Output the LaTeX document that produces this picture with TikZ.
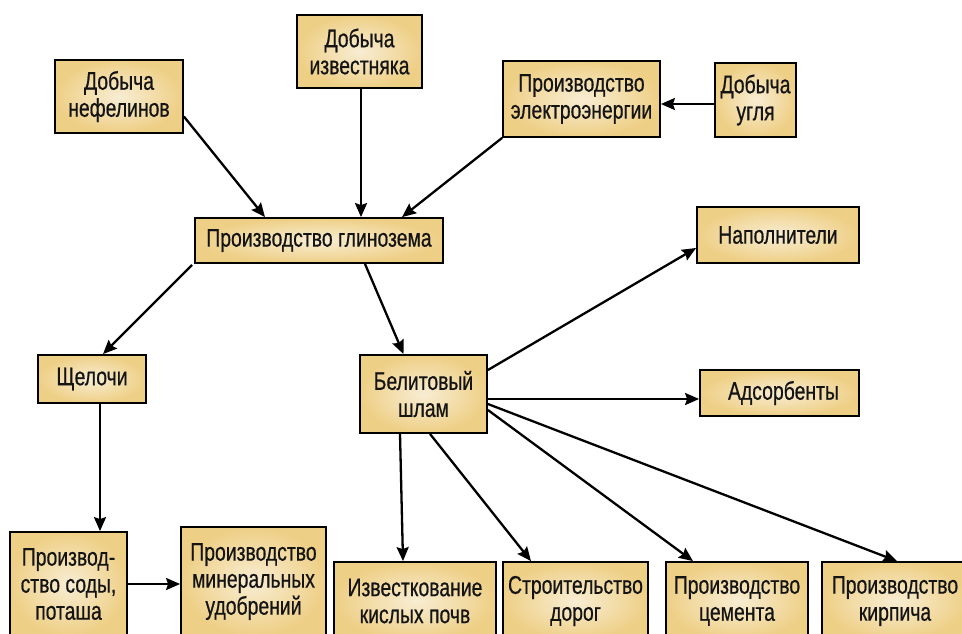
\documentclass[tikz,border=0pt]{standalone}
\usepackage{fontspec}
\setmainfont[FakeStretch=0.76,FakeBold=0.6]{Liberation Sans}
\usetikzlibrary{arrows.meta,calc}
\definecolor{boxin}{HTML}{F8EDD3}
\definecolor{boxout}{HTML}{EECF86}
\definecolor{txt}{HTML}{141414}
\tikzset{
  box/.style={draw=black, line width=1.8pt, inner sep=0pt, align=center,
    inner color=boxin, outer color=boxout, text=txt,
    font=\fontsize{25.5}{27}\selectfont},
  arr/.style={line width=2.3pt, -{Stealth[length=14pt,width=12pt,inset=2pt]}}
}
\newcommand{\bx}[6]{% name, x1, y1, x2, y2, text
  \node[box, minimum width={(#4-#2)*1pt}, minimum height={(#5-#3)*1pt}]
    (#1) at ({(#2+#4)/2},{(#3+#5)/2}) {#6};}
\begin{document}
\begin{tikzpicture}[x=1pt,y=-1pt]
\useasboundingbox (0,0) rectangle (962,633);
\clip (0,0) rectangle (962,633);
\fill[white] (0,0) rectangle (962,633);
\bx{nef}{55}{60}{183}{133}{Добыча\\нефелинов}
\bx{izv}{297}{15}{422}{88}{Добыча\\известняка}
\bx{el}{503}{61}{660}{137}{Производство\\электроэнергии}
\bx{ug}{715}{63}{796}{137}{Добыча\\угля}
\bx{gl}{195}{218}{443}{263}{Производство глинозема}
\bx{sh}{38}{355}{146}{403}{Щелочи}
\bx{bel}{360}{355}{487}{433}{Белитовый\\шлам}
\bx{nap}{697}{207}{859}{263}{Наполнители}
\bx{ads}{700}{370}{859}{416}{\hspace*{8pt}Адсорбенты}
\bx{soda}{10}{532}{127}{636}{Производ-\\ство соды,\\поташа}
\bx{udo}{181}{527}{326}{636}{Производство\\минеральных\\удобрений}
\bx{ikp}{334}{562}{496}{640}{Известкование\\кислых почв}
\bx{dor}{503}{562}{648}{640}{Строительство\\дорог}
\bx{cem}{666}{562}{808}{640}{Производство\\цемента}
\bx{kir}{822}{562}{968}{640}{Производство\\кирпича}

\draw[arr] ([yshift=-20pt]nef.east) -- ([xshift=-54pt]gl.north);
\draw[arr] ([xshift=1.5pt]izv.south) -- ([xshift=1.5pt]izv.south |- gl.north);
\draw[arr] (el.south west) -- ([xshift=83pt]gl.north);
\draw[arr] ([yshift=-4pt]ug.west) -- ([yshift=-4pt]ug.west -| el.east);
\draw[arr] ([xshift=-2pt,yshift=-1pt]gl.south west) -- ([xshift=11pt]sh.north);
\draw[arr] ([xshift=46pt]gl.south) -- ([xshift=-20pt]bel.north);
\draw[arr] ([xshift=8pt]sh.south) -- ([xshift=8pt]sh.south |- soda.north);
\draw[arr] (soda.east) -- (soda.east -| udo.west);
\draw[arr] ([yshift=24pt]bel.east) -- ([yshift=-13pt]nap.west);
\draw[arr] ([yshift=-5pt]bel.east) -- ([yshift=-5pt]bel.east -| ads.west);
\draw[arr] ([xshift=-23.5pt]bel.south) -- ([xshift=-12pt]ikp.north);
\draw[arr] ([xshift=6.5pt]bel.south) -- ([xshift=-44.5pt]dor.north);
\draw[arr] ([yshift=-16pt]bel.east) -- ([xshift=-44pt]cem.north);
\draw[arr] ([yshift=-10pt]bel.east) -- ([xshift=2pt]kir.north);
\end{tikzpicture}
\end{document}
